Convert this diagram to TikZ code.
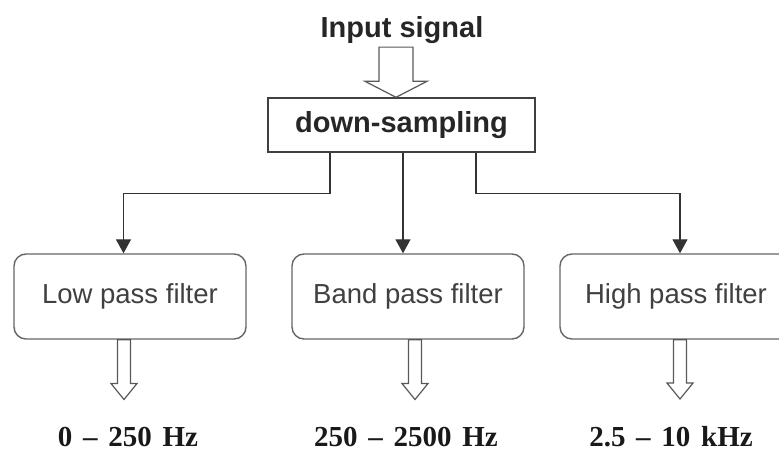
\documentclass[tikz,border=0pt]{standalone}
\usepackage{fontspec}
\setmainfont{Liberation Serif}
\setsansfont{Liberation Sans}
\usetikzlibrary{arrows.meta,calc}

\newcommand\rangefont{\bfseries\fontsize{29}{34}\selectfont\spaceskip=0.37em\relax}
\newcommand\hollowarrow[4]{%
  \draw[hollow] let \p1=(#1), \p2=(#2) in
    (\x1-#3pt,\y1) -- (\x1-#3pt,\y2+16pt) -- (\x1-#4pt,\y2+16pt) -- (\x1,\y2)
    -- (\x1+#4pt,\y2+16pt) -- (\x1+#3pt,\y2+16pt) -- (\x1+#3pt,\y1) -- cycle;}

\begin{document}
\begin{tikzpicture}[x=1pt, y=-1pt,
        title/.style={font=\sffamily\bfseries\fontsize{29}{34}\selectfont, text=black!85},
        dsbox/.style={draw=black!75, line width=1.4pt, minimum width=267pt,
                      minimum height=54pt, inner sep=0pt,
                      font=\sffamily\bfseries\fontsize{29}{34}\selectfont, text=black!85},
        filt/.style={draw=black!60, line width=1.4pt, rounded corners=12pt,
                     minimum width=232pt, minimum height=85pt, inner sep=0pt,
                     font=\sffamily\fontsize{27.5}{32}\selectfont, text=black!75},
        band/.style={inner sep=0.5pt, font=\rangefont, text=black!90},
        conn/.style={draw=black!80, line width=1.3pt, -{Triangle[width=15pt,length=14pt]}},
        hollow/.style={draw=black!65, line width=1.2pt, fill=white}]
      \clip (0,0) rectangle (779,452);
      \node[title]      (inp)  at (402,30)      {Input signal};
      \node[dsbox]      (ds)   at (401.5,125)   {down-sampling};
      \node[filt]       (low)  at (130,296.5)   {Low pass filter};
      \node[filt]       (bpf)  at (408,296.5)   {Band pass filter};
      \node[filt]       (high) at (676,296.5)   {High pass filter};
      \node[band]       (lowr) at (128,437)     {0 -- 250 Hz};
      \node[band]       (bpfr) at (406,437)     {250 -- 2500 Hz};
      \node[band]       (higr) at (671,437)     {2.5 -- 10 kHz};
      \hollowarrow{[xshift=-6pt]inp.south}{ds.north}{17}{31}
      \draw[conn] ([xshift=-71.5pt]ds.south) -- ++(0,41) -| ([xshift=-6.5pt]low.north);
      \draw[conn] ([xshift=1.5pt]ds.south)   -- ([xshift=-5pt]bpf.north);
      \draw[conn] ([xshift=74.5pt]ds.south)  -- ++(0,41) -| ([xshift=4pt]high.north);
      \hollowarrow{[xshift=-6pt]low.south}{[yshift=27pt]lowr.north}{6.5}{13}
      \hollowarrow{[xshift=7pt]bpf.south}{[yshift=27pt]bpfr.north}{6.5}{13}
      \hollowarrow{[xshift=4pt]high.south}{[yshift=27pt]higr.north}{6.5}{13}
    \end{tikzpicture}
\end{document}
